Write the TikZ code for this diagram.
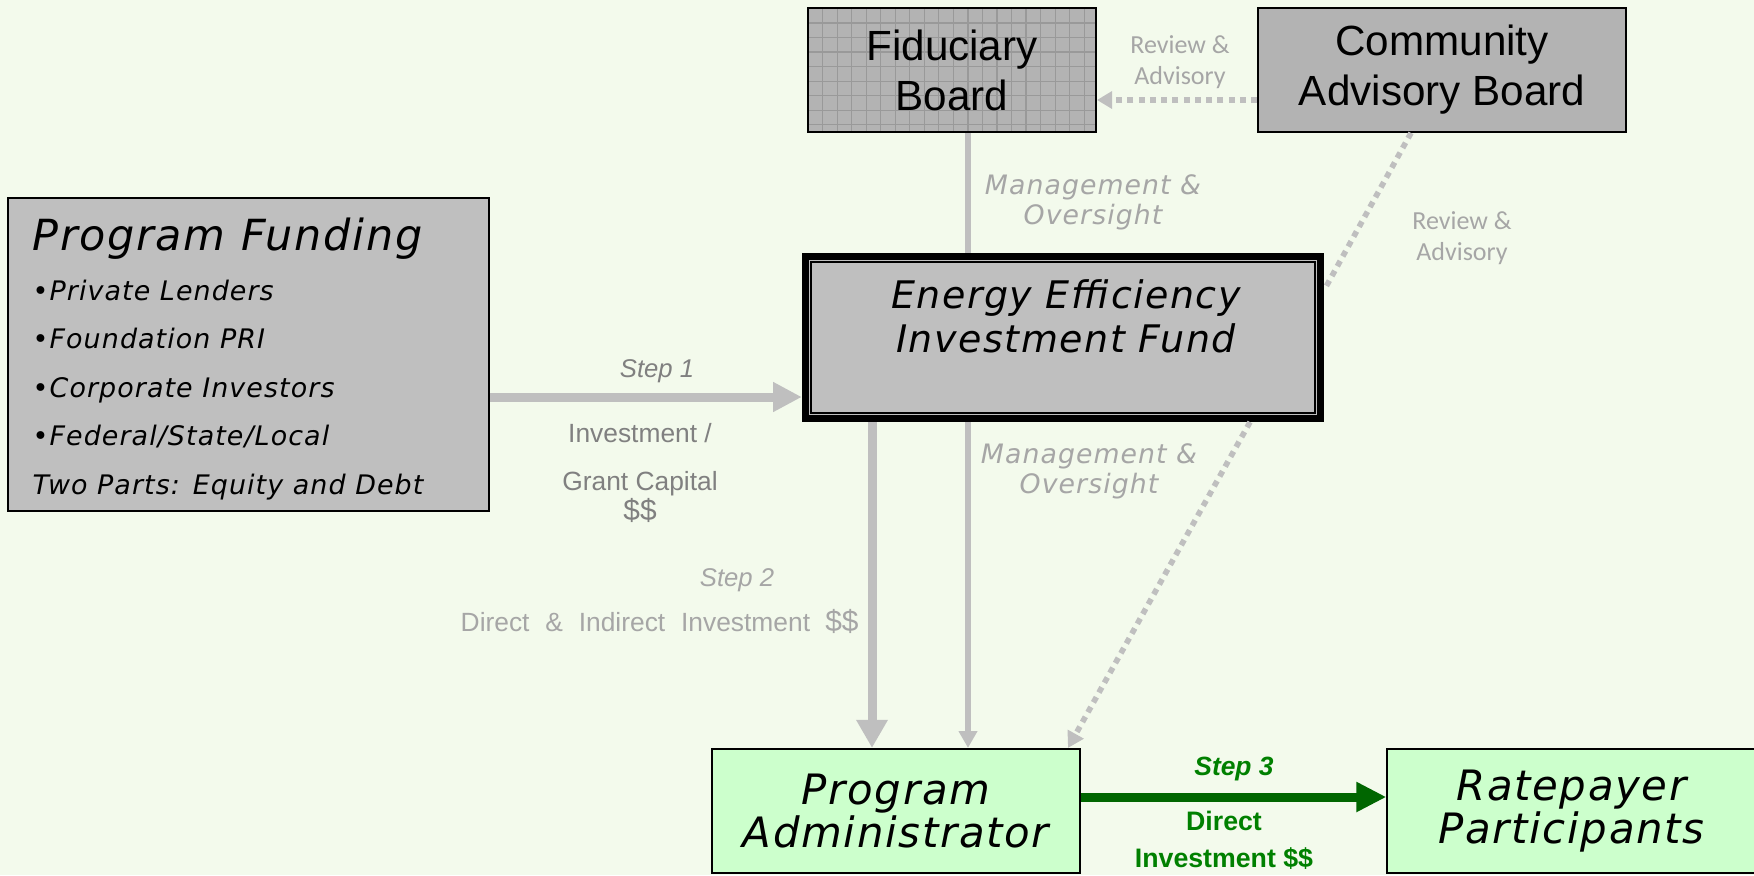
\documentclass[tikz,border=0pt]{standalone}
\usepackage{fontspec}
\setmainfont{Liberation Sans}
\newfontfamily\verd[LetterSpace=4,ItalicFont={DejaVu Sans Oblique}]{DejaVu Sans}
\newfontfamily\cali{Carlito}
\usepackage{tikz}
\usetikzlibrary{arrows.meta,positioning}

\definecolor{bg}{HTML}{F3FAEC}
\definecolor{boxgray}{HTML}{BFBFBF}
\definecolor{boardgray}{HTML}{B3B3B3}
\definecolor{gridgray}{HTML}{999999}
\definecolor{palegreen}{HTML}{CCFFCC}
\definecolor{flowgray}{HTML}{BFBFBF}
\definecolor{labelgray}{HTML}{808080}
\definecolor{softgray}{HTML}{A6A6A6}
\definecolor{darkgreen}{HTML}{006600}
\definecolor{textgreen}{HTML}{008000}

\begin{document}
\begin{tikzpicture}[x=0.01cm,y=-0.01cm,>=Triangle,node distance=1.6cm]
		\tikzstyle{board}=[rectangle, draw=black, line width=0.5pt, fill=boardgray, minimum width=2.88cm, minimum height=1.24cm, inner sep=0pt, align=center, font=\fontsize{12}{14.2}\selectfont]
		\tikzstyle{fundbox}=[rectangle, draw=black, line width=0.45pt, fill=boxgray, minimum width=4.81cm, minimum height=3.13cm, inner sep=0pt]
		\tikzstyle{fund}=[rectangle, draw=black, line width=2pt, fill=boxgray, minimum width=5.15cm, minimum height=1.62cm, inner sep=0pt]
		\tikzstyle{partner}=[rectangle, draw=black, line width=0.6pt, fill=palegreen, minimum width=3.68cm, minimum height=1.24cm, inner sep=0pt, align=center, font=\verd\itshape\fontsize{11.9}{12.2}\selectfont]
		\tikzstyle{fundline}=[anchor=base west, inner sep=0pt, font=\verd\itshape\fontsize{7.65}{8}\selectfont]
		\tikzstyle{fundtext}=[align=center, inner sep=0pt, font=\verd\itshape\fontsize{10.8}{12.5}\selectfont]
		\tikzstyle{mgmt}=[align=center, inner sep=0pt, text=softgray, font=\verd\itshape\fontsize{7.6}{8.5}\selectfont]
		\tikzstyle{review}=[align=center, inner sep=0pt, text=softgray, font=\cali\fontsize{7.4}{8.8}\selectfont]
		\tikzstyle{capital}=[anchor=base, inner sep=0pt, text=labelgray, font=\fontsize{7.5}{9}\selectfont]
		\tikzstyle{soft}=[inner sep=0pt, text=softgray, font=\fontsize{7.5}{9}\selectfont]
		\tikzstyle{greenlabel}=[anchor=base, inner sep=0pt, text=textgreen, font=\bfseries\fontsize{7.6}{9}\selectfont]
		\tikzstyle{flow}=[draw=flowgray, line width=2.56pt]
		\tikzstyle{thinflow}=[draw=flowgray, line width=1.45pt]
		\tikzstyle{dotflow}=[draw=flowgray, line width=1.6pt, dash pattern=on 1.7pt off 1.5pt]
		\tikzstyle{greenflow}=[draw=darkgreen, line width=2.56pt]

		\path[fill=bg, use as bounding box] (0,0) rectangle (1754,875);

		% boxes
		\node [board, path picture={\draw[gridgray, line width=0.3pt, step=0.145cm] (path picture bounding box.south west) grid (path picture bounding box.north east);}] (fiduciary) at (952,70) {Fiduciary\\Board};
		\node [board, minimum width=3.68cm] (community) [right=1.6cm of fiduciary] {Community\\Advisory Board};
		\node [fundbox] (funding) at (248.5,354.5) {};
		\node [fund] (eeif) at (1063,337.5) {};
		\draw [black, line width=0.4pt] ([shift={(9,9)}]eeif.north west) rectangle ([shift={(-9,-9)}]eeif.south east);
		\node [partner] (admin) at (896,811) {Program\\Administrator};
		\node [partner] (ratepayer) [right=3.05cm of admin] {Ratepayer\\Participants};

		% texts in the boxes
		\node [fundline, font=\verd\itshape\fontsize{12.2}{13}\selectfont] (fundtitle) at (32,250) {Program Funding};
		\foreach \txt [count=\k from 0] in {{•Private Lenders},{•Foundation PRI},{•Corporate Investors},{•Federal/State/Local},{Two Parts: Equity and Debt}}
			\node [fundline] (item\k) at (32,300+48.5*\k) {\txt};
		\node [fundtext] (eeiftext) at (1066,316.5) {Energy Efficiency\\Investment Fund};

		% lanes and levels of the connectors
		\coordinate (lane step2) at (872,0);
		\coordinate (lane mgmt) at (968,0);
		\coordinate (lane side) at (1411,0);
		\coordinate (lane diagtop) at (1250,0);
		\coordinate (lane diagbot) at (1068,0);
		\coordinate (level review) at (0,100);
		\coordinate (level side) at (0,290);
		\coordinate (level step1) at (0,397);
		\coordinate (level step3) at (0,797);

		% connectors
		\draw [flow, -{Triangle[length=8.2pt,width=8pt]}] (funding.east |- level step1) -- (eeif.west |- level step1);
		\draw [flow, -{Triangle[length=8pt,width=8.5pt]}] (eeif.south -| lane step2) -- (admin.north -| lane step2);
		\draw [thinflow] (fiduciary.south -| lane mgmt) -- (eeif.north -| lane mgmt);
		\draw [thinflow, -{Triangle[length=4.8pt,width=5.1pt]}] (eeif.south -| lane mgmt) -- (admin.north -| lane mgmt);
		\draw [dotflow, -{Triangle[length=4.3pt,width=4.8pt]}] (community.west |- level review) -- (fiduciary.east |- level review);
		\draw [dotflow] (community.south -| lane side) -- (eeif.east |- level side);
		\draw [dotflow, -{Triangle[length=4.5pt,width=5pt]}] (eeif.south -| lane diagtop) -- (admin.north -| lane diagbot);
		\draw [greenflow, -{Triangle[length=8.5pt,width=8pt]}] (admin.east |- level step3) -- (ratepayer.west |- level step3);

		% connector labels
		\node [mgmt] (mgmt upper) at (1093,202) {Management \&\\Oversight};
		\node [mgmt] (mgmt lower) at (1089,471.5) {Management \&\\Oversight};
		\node [review] (review top) at (1180,62) {Review \&\\Advisory};
		\node [review] (review side) at (1462,238) {Review \&\\Advisory};
		\node [capital, font=\itshape\fontsize{7.3}{9}\selectfont] (step1) at (657,377) {Step 1};
		\node [capital] (capital a) at (640,442) {Investment /};
		\node [capital] (capital b) at (640,490) {Grant Capital};
		\node [capital, font=\fontsize{8.5}{10}\selectfont] (capital c) at (640,520) {\$\$};
		\node [soft, anchor=base, font=\itshape\fontsize{7.3}{9}\selectfont] (step2) at (737,586) {Step 2};
		\node [soft, anchor=base west] (step2 text) at (460,631) {Direct\hspace{4.5pt}\&\hspace{4.5pt}Indirect\hspace{4.5pt}Investment\hspace{4.3pt}{\fontsize{8.5}{10}\selectfont\$\$}};
		\node [greenlabel, font=\bfseries\itshape\fontsize{7.5}{9}\selectfont] (step3) at (1234,775) {Step 3};
		\node [greenlabel] (step3 a) at (1224,830) {Direct};
		\node [greenlabel] (step3 b) at (1224,867) {Investment \$\$};
	\end{tikzpicture}
\end{document}
